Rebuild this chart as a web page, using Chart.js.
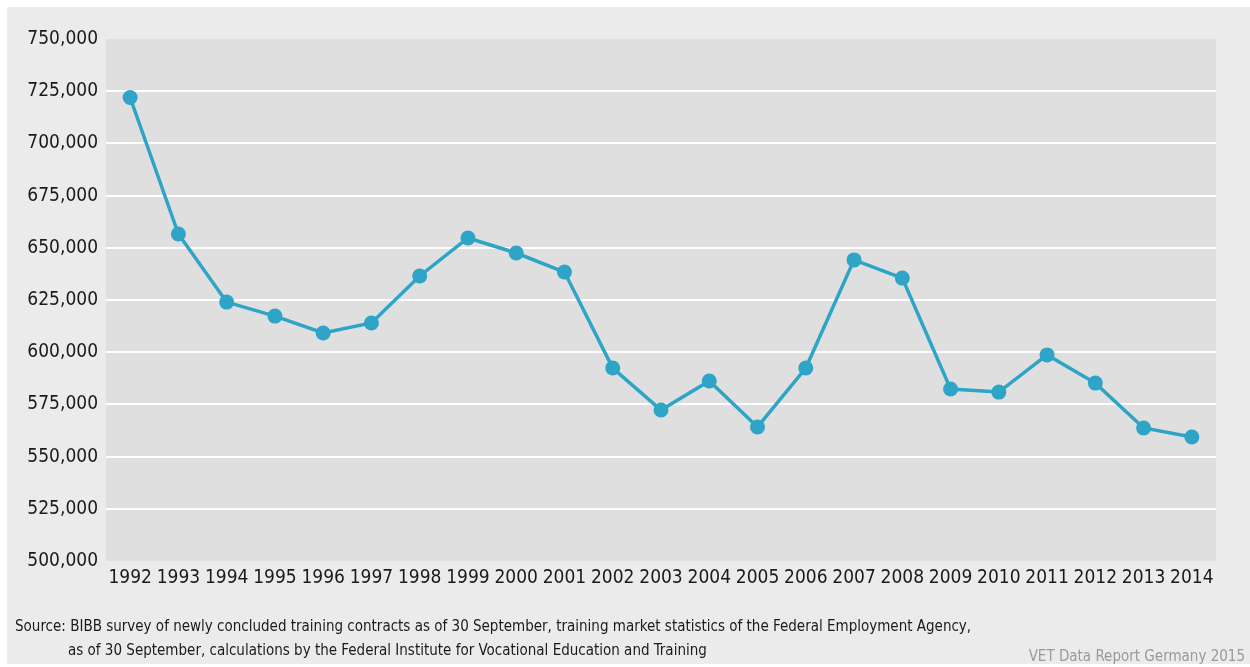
<!DOCTYPE html>
<html>
<head>
<meta charset="utf-8">
<script src="https://cdn.jsdelivr.net/npm/chart.js@4/dist/chart.umd.min.js"></script>
<style>
  html, body { margin: 0; padding: 0; background: #fff; }
  #frame { position: absolute; left: 7px; top: 7px; width: 1243px; height: 657px; background: #ebebeb; }
  #wrap { position: absolute; left: 0; top: 0; width: 1250px; height: 667px; }
  .note { position: absolute; font-family: "Liberation Sans Narrow", "DejaVu Sans Condensed", sans-serif; font-size: 15px; color: #1a1a1a; white-space: nowrap; }
</style>
</head>
<body>
<div id="frame"></div>
<div id="wrap"><canvas id="chart" width="1250" height="667"></canvas></div>
<div class="note" style="left:15px; top:617px;">Source: BIBB survey of newly concluded training contracts as of 30 September, training market statistics of the Federal Employment Agency,</div>
<div class="note" style="left:68px; top:641px;">as of 30 September, calculations by the Federal Institute for Vocational Education and Training</div>
<div class="note" style="right:5px; top:647px; color:#9a9a9a;">VET Data Report Germany 2015</div>
<script>
const years = ['1992', '1993', '1994', '1995', '1996', '1997', '1998', '1999', '2000', '2001', '2002',
  '2003', '2004', '2005', '2006', '2007', '2008', '2009', '2010', '2011', '2012', '2013', '2014'];
const contracts = [722000, 656600, 624000, 617300, 609200, 614000, 636500, 654700, 647500, 638400, 592400,
  572300, 586200, 564200, 592400, 644200, 635500, 582400, 580900, 598700, 585200, 563700, 559400];

const FONT = '"Liberation Sans Narrow", "DejaVu Sans Condensed", sans-serif';
const LINE_COLOR = '#2ea4c7';

// paint the plot background before anything else
const plotBg = {
  id: 'plotBg',
  beforeDraw(chart) {
    const { ctx, chartArea: a } = chart;
    ctx.save();
    ctx.fillStyle = '#dfdfdf';
    ctx.fillRect(a.left, a.top, a.right - a.left, a.bottom - a.top);
    ctx.restore();
  },
};

new Chart(document.getElementById('chart').getContext('2d'), {
  type: 'line',
  data: {
    labels: years,
    datasets: [
      {
        data: contracts,
        borderColor: LINE_COLOR,
        backgroundColor: LINE_COLOR,
        borderWidth: 3.5,
        pointRadius: 7.5,
        pointBorderWidth: 0,
        pointBackgroundColor: LINE_COLOR,
        tension: 0,
      },
    ],
  },
  options: {
    responsive: false,
    animation: false,
    layout: { padding: { top: 39, right: 34, left: 0, bottom: 0 } },
    plugins: { legend: { display: false }, tooltip: { enabled: false } },
    scales: {
      x: {
        offset: true,
        grid: { display: false, drawTicks: false },
        border: { display: false },
        ticks: { color: '#1a1a1a', font: { family: FONT, size: 19 }, padding: 6, maxRotation: 0, autoSkip: false },
        afterFit(s) { s.height = 106; },
      },
      y: {
        min: 500000,
        max: 750000,
        grid: {
          drawTicks: false,
          lineWidth: 2,
          color: (c) => (c.tick && (c.tick.value === 500000 || c.tick.value === 750000) ? 'rgba(0,0,0,0)' : '#ffffff'),
        },
        border: { display: false },
        ticks: {
          stepSize: 25000,
          color: '#1a1a1a',
          font: { family: FONT, size: 19 },
          padding: 8,
          callback: (v) => v.toLocaleString('en-US'),
        },
        afterFit(s) { s.width = 106; },
      },
    },
  },
  plugins: [plotBg],
});
</script>
</body>
</html>
